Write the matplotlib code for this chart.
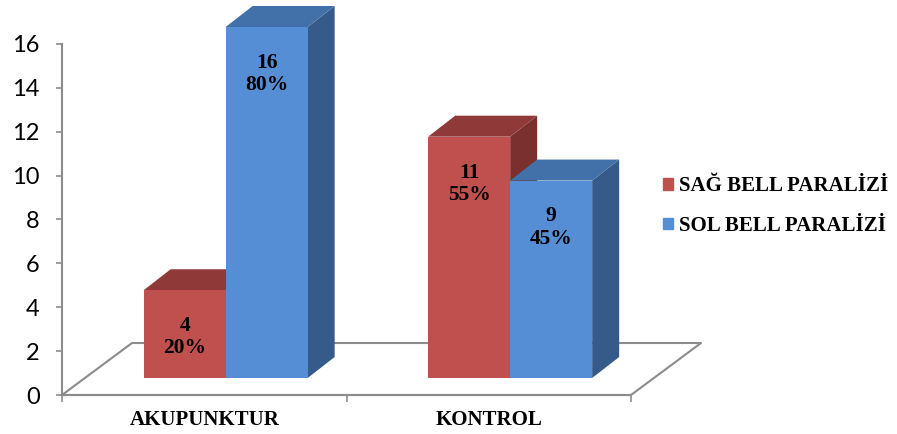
import numpy as np
import matplotlib
matplotlib.use('Agg')
import matplotlib.pyplot as plt
from matplotlib.patches import Polygon, Patch

categories = ['AKUPUNKTUR', 'KONTROL']
series = ['SAĞ BELL PARALİZİ', 'SOL BELL PARALİZİ']
sag = [4, 11]
sol = [16, 9]
yticks = [0, 2, 4, 6, 8, 10, 12, 14, 16]

front = ['#C0504D', '#558ED5']
top = ['#8F3A38', '#4270A8']
side = ['#7A302E', '#365B8A']

# pixel scale of the drawing (one category = 284.5 px, one unit = 21.94 px)
pxu = 284.5
pxv = 21.94
W, H = 897, 434
x0, y0 = 62, 395

fig = plt.figure(figsize=(W/100, H/100), dpi=100)
ax = fig.add_axes([0, 0, 1, 1])
ax.set_xlim(-x0/pxu, (W - x0)/pxu)
ax.set_ylim(-(H - y0)/pxv, 16 + 44/pxv)
ax.patch.set_visible(False)

# floor (parallelogram)
fdx, fdy = 70/pxu, 52/pxv
n = len(categories)
floor = np.array([[0, 0], [n, 0], [n + fdx, fdy], [fdx, fdy], [0, 0]])
ax.plot(floor[:, 0], floor[:, 1], color='#8C8C8C', lw=1.5, zorder=1)

# bars with depth
base = 17/pxv
w = 82/pxu
ddx, ddy = 27/pxu, 21/pxv
vals = [sag, sol]
for i in range(n):
    total = sag[i] + sol[i]
    for s in range(2):
        v = vals[s][i]
        xl = i + 0.287 + s*w
        xr = xl + w
        yt = base + v
        ax.add_patch(Polygon([[xr, base], [xr + ddx, base + ddy], [xr + ddx, yt + ddy], [xr, yt]],
                             closed=True, fc=side[s], ec='none', zorder=2))
        ax.add_patch(Polygon([[xl, yt], [xr, yt], [xr + ddx, yt + ddy], [xl + ddx, yt + ddy]],
                             closed=True, fc=top[s], ec='none', zorder=2))
        ax.bar(xl, v, width=w, bottom=base, align='edge', color=front[s], zorder=2)
        ax.text(xl + w/2, yt - 47/pxv, '%d\n%d%%' % (v, round(100*v/total)),
                ha='center', va='center', family='Liberation Serif', weight='bold',
                fontsize=15.5, linespacing=1.15, zorder=3)

for sp in ['top', 'right']:
    ax.spines[sp].set_visible(False)
ax.spines['left'].set_position(('data', 0))
ax.spines['left'].set_bounds(0, 16)
ax.spines['bottom'].set_position(('data', 0))
ax.spines['bottom'].set_bounds(0, n)
for sp in ['left', 'bottom']:
    ax.spines[sp].set_color('#8C8C8C')
    ax.spines[sp].set_linewidth(1.5)
    ax.spines[sp].set_zorder(1)

ax.set_yticks(yticks)
ax.set_yticklabels([str(t) for t in yticks], family='Lato', fontsize=17)
ax.tick_params(axis='y', length=4, width=1.2, color='#8C8C8C', pad=12)
ax.set_xticks(range(n + 1))
ax.set_xticklabels([])
ax.tick_params(axis='x', length=5, width=1.2, color='#8C8C8C')

for i, c in enumerate(categories):
    ax.text(i + 0.5, -25/pxv, c, ha='center', va='center', family='Liberation Serif',
            weight='bold', fontsize=15)

handles = [Patch(color=front[0]), Patch(color=front[1])]
fig.legend(handles, series, loc='center left', bbox_to_anchor=(663/W, 1 - 206/H),
           frameon=False, prop={'family': 'Liberation Serif', 'weight': 'bold', 'size': 15},
           handlelength=0.5, handleheight=0.5, handletextpad=0.25, labelspacing=0.95,
           borderpad=0, borderaxespad=0)

plt.savefig('out.png', dpi=100)
